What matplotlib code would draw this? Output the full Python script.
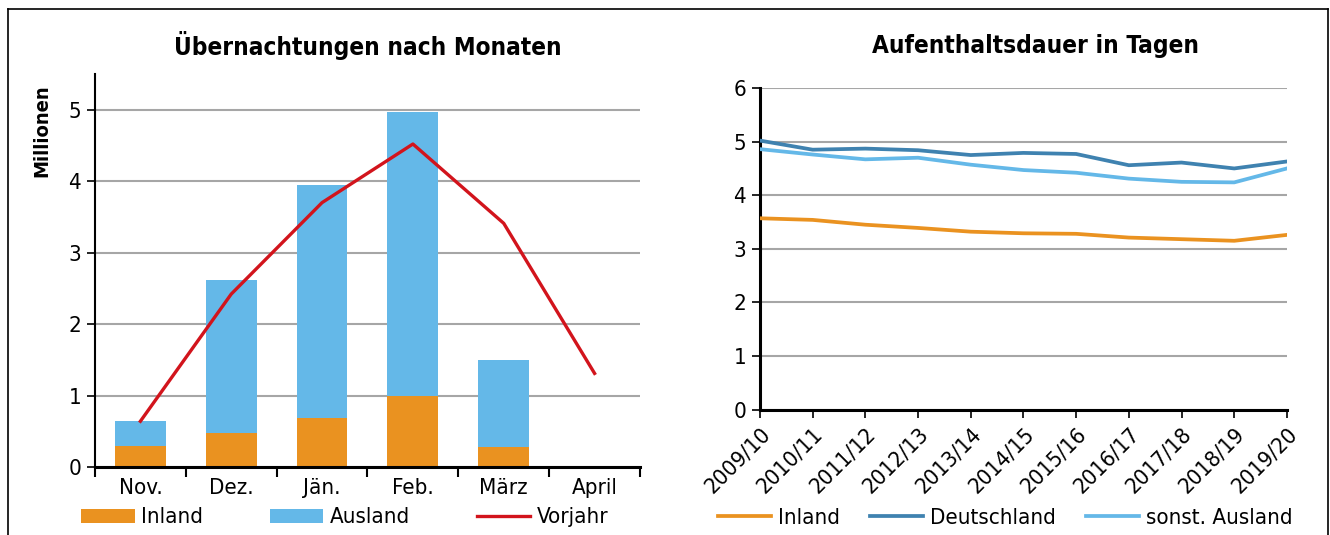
import matplotlib
matplotlib.use("Agg")
import matplotlib.pyplot as plt
from matplotlib.lines import Line2D
import numpy as np

# Linkes Diagramm: Übernachtungen (Mio.)
monate = ["Nov.", "Dez.", "Jän.", "Feb.", "März", "April"]
inland = [0.29, 0.48, 0.68, 1.00, 0.28, np.nan]
ausland = [0.36, 2.14, 3.27, 3.97, 1.22, np.nan]
vorjahr = [0.64, 2.42, 3.70, 4.52, 3.41, 1.31]

# Rechtes Diagramm: Aufenthaltsdauer in Tagen
saisons = ["2009/10", "2010/11", "2011/12", "2012/13", "2013/14", "2014/15",
           "2015/16", "2016/17", "2017/18", "2018/19", "2019/20"]
dauer_inland = [3.57, 3.54, 3.45, 3.39, 3.32, 3.29, 3.28, 3.21, 3.18, 3.15, 3.26]
dauer_deutschland = [5.02, 4.85, 4.87, 4.84, 4.75, 4.79, 4.77, 4.56, 4.61, 4.50, 4.63]
dauer_sonst = [4.86, 4.76, 4.67, 4.70, 4.57, 4.47, 4.42, 4.31, 4.25, 4.24, 4.50]

c_inland = "#EA9220"
c_ausland = "#64B8E8"
c_rot = "#D2141C"
c_de = "#3F82B0"
c_grid = "#A6A6A6"

plt.rcParams["font.family"] = ["DejaVu Sans"]
plt.rcParams["font.stretch"] = "condensed"
plt.rcParams["font.size"] = 16

fig = plt.figure(figsize=(13.3, 5.35), dpi=100)

# Rahmen
fig.add_artist(Line2D([0.006, 0.9985], [0.983, 0.983], color="black", lw=1.2,
                      transform=fig.transFigure))
fig.add_artist(Line2D([0.006, 0.006], [0.0, 0.983], color="black", lw=1.2,
                      transform=fig.transFigure))
fig.add_artist(Line2D([0.9985, 0.9985], [0.0, 0.983], color="black", lw=1.2,
                      transform=fig.transFigure))

# ---- links ----
ax1 = fig.add_axes([0.0714, 0.1271, 0.4098, 0.7346])
x = np.arange(len(monate))
b1 = ax1.bar(x, inland, width=0.56, color=c_inland, label="Inland", zorder=2)
b2 = ax1.bar(x, ausland, width=0.56, bottom=inland, color=c_ausland,
             label="Ausland", zorder=2)
l1, = ax1.plot(x, vorjahr, color=c_rot, lw=2.4, label="Vorjahr", zorder=3)

ax1.set_xlim(-0.5, len(monate) - 0.5)
ax1.set_ylim(0, 5.5)
ax1.set_yticks(range(0, 6))
ax1.set_xticks(np.arange(-0.5, len(monate)), labels=[""] * (len(monate) + 1))
ax1.set_xticks(x, labels=monate, minor=True)
ax1.tick_params(axis="x", which="major", length=7, width=1.5, direction="out")
ax1.tick_params(axis="x", which="minor", length=0, pad=8)
ax1.tick_params(axis="y", length=6, width=1.2, pad=4)
ax1.grid(axis="y", color=c_grid, lw=1.5, zorder=0)
for s in ["top", "right"]:
    ax1.spines[s].set_visible(False)
ax1.spines["bottom"].set_linewidth(2.2)
ax1.spines["left"].set_linewidth(1.5)
ax1.set_title("Übernachtungen nach Monaten", fontweight="bold", fontsize=17.5,
              pad=14)
ax1.text(-0.097, 0.857, "Millionen", transform=ax1.transAxes, rotation=90,
         ha="center", va="center", fontweight="bold", fontsize=14.5)
ax1.legend([b1, b2, l1], ["Inland", "Ausland", "Vorjahr"],
           loc="upper left", bbox_to_anchor=(-0.025, -0.103), ncol=3,
           frameon=False, handlelength=2.4, handleheight=0.6,
           handletextpad=0.3, columnspacing=3.0, borderaxespad=0,
           borderpad=0)

# ---- rechts ----
ax2 = fig.add_axes([0.5714, 0.2344, 0.3962, 0.601])
xs = np.arange(len(saisons))
ax2.plot(xs, dauer_inland, color=c_inland, lw=2.7, label="Inland", zorder=3)
ax2.plot(xs, dauer_deutschland, color=c_de, lw=2.7, label="Deutschland",
         zorder=3)
ax2.plot(xs, dauer_sonst, color=c_ausland, lw=2.7, label="sonst. Ausland",
         zorder=3)
ax2.set_xlim(0, len(saisons) - 1)
ax2.set_ylim(0, 6)
ax2.set_yticks(range(0, 7))
ax2.set_xticks(xs, labels=saisons, rotation=45, ha="right",
               rotation_mode="anchor")
ax2.tick_params(axis="x", length=6, width=1.2, pad=4)
ax2.tick_params(axis="y", length=6, width=1.2, pad=4)
ax2.grid(axis="y", color=c_grid, lw=1.5, zorder=0)
for s in ["top", "right"]:
    ax2.spines[s].set_visible(False)
ax2.spines["bottom"].set_linewidth(2.2)
ax2.spines["left"].set_linewidth(2.2)
ax2.set_title("Aufenthaltsdauer in Tagen", fontweight="bold", fontsize=17.5,
              pad=25, x=0.522)
ax2.legend(loc="upper left", bbox_to_anchor=(-0.08, -0.305), ncol=3,
           frameon=False, handlelength=2.4, handletextpad=0.3,
           columnspacing=1.35, borderaxespad=0, borderpad=0)

fig.savefig("out.png", dpi=100)
